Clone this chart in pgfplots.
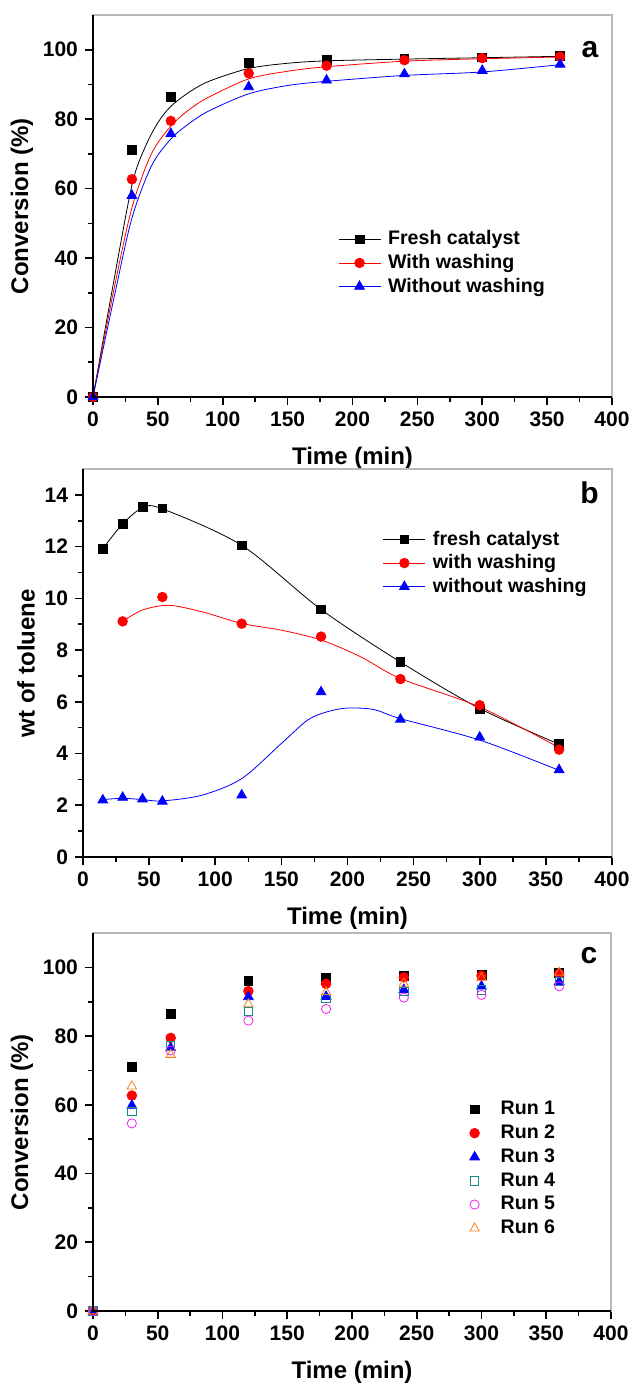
\documentclass[border=0pt]{standalone}
\usepackage{fontspec}
\setmainfont{Liberation Sans}
\usepackage{pgfplots}
\pgfplotsset{compat=1.18}

\definecolor{runteal}{HTML}{178A8A}
\definecolor{runmag}{HTML}{F020F0}
\definecolor{runorange}{HTML}{FF7F1A}

\tikzset{lbl/.style={font=\fontsize{15}{17}\selectfont\bfseries}}

\pgfplotsset{
  panel/.style={
    scale only axis,
    xmin=0, xmax=400,
    xtick={0,50,...,400},
    minor x tick num=1,
    tick align=outside,
    xtick pos=left, ytick pos=left,
    major tick length=4pt, minor tick length=2.5pt,
    tick style={black, line width=0.8pt},
    axis line style={gray!55, line width=0.8pt},
    ticklabel style={font=\fontsize{10.5}{12}\selectfont\bfseries},
    /pgf/number format/assume math mode=true,
    label style={font=\fontsize{12}{14}\selectfont\bfseries},
    xlabel={Time (min)},
    xlabel style={yshift=-3pt},
    ylabel style={yshift=-2pt},
    legend style={draw=none, fill=none, font=\fontsize{9.8}{11}\selectfont\bfseries,
      row sep=2pt, nodes={inner sep=0.6pt}},
    legend cell align=left,
  },
  linemark/.style={
    legend image code/.code={
      \draw[##1, mark repeat=2, mark phase=2] plot coordinates {(0pt,0pt) (10.5pt,0pt) (21pt,0pt)};
    },
  },
  sq/.style={black, mark=square*, mark size=2.2pt},
  ci/.style={red, mark=*, mark size=2.4pt},
  tr/.style={blue, mark=triangle*, mark size=2.8pt},
}

\begin{document}
\begin{tikzpicture}
\path[use as bounding box] (0,0) rectangle (315.5pt,-693pt);

% ---------- panel a ----------
\begin{axis}[panel, linemark, name=pa,
  at={(46.5pt,-198.5pt)}, anchor=south west,
  width=259.5pt, height=191pt,
  ymin=0, ymax=110, ytick={0,20,...,100}, minor y tick num=1,
  ylabel={Conversion (\%)},
  legend style={at={(axis description cs:0.46,0.45)}, anchor=north west},
]
\addlegendimage{sq, thin}
\addlegendentry{\hspace{3pt}Fresh catalyst}
\addlegendimage{ci, thin}
\addlegendentry{\hspace{3pt}With washing}
\addlegendimage{tr, thin}
\addlegendentry{\hspace{3pt}Without washing}

\addplot[black, thin, smooth, forget plot] coordinates {
  (0,0) (14.4,30) (30,61) (40,71.8) (50,79) (60,83.7) (75,88) (90,91.0) (120,94.6)
  (150,96.1) (180,96.8) (240,97.3) (300,97.7) (360,98.1)};
\addplot[red, thin, smooth, forget plot] coordinates {
  (0,0) (15.6,30) (30,54.5) (45,70) (60,78) (75,83) (90,86.5) (120,91.6)
  (150,93.8) (180,95.1) (240,96.7) (300,97.4) (360,97.9)};
\addplot[blue, thin, smooth, forget plot] coordinates {
  (0,0) (17,30) (30,51.5) (45,66.5) (60,74.3) (75,79) (90,82.5) (120,87.3)
  (150,89.7) (180,90.9) (240,92.6) (300,93.6) (360,95.7)};

\addplot[sq, only marks, forget plot] coordinates {
  (0,0) (30,71.2) (60,86.5) (120,96.2) (180,97.0) (240,97.5) (300,97.8) (360,98.2)};
\addplot[ci, only marks, forget plot] coordinates {
  (0,0) (30,62.7) (60,79.5) (120,93.2) (180,95.4) (240,97.0) (300,97.6) (360,98.0)};
\addplot[tr, only marks, forget plot] coordinates {
  (0,0) (30,58.0) (60,75.8) (120,89.3) (180,91.2) (240,93.0) (300,94.0) (360,95.8)};

\node[lbl] at (axis cs:383,100) {a};
\end{axis}
\draw[black, line width=1pt] (pa.north west) -- (pa.south west) -- (pa.south east);

% ---------- panel b ----------
\begin{axis}[panel, linemark, name=pb,
  at={(41.5pt,-428.5pt)}, anchor=south west,
  width=264.5pt, height=194pt,
  ymin=0, ymax=15, ytick={0,2,...,14}, minor y tick num=1,
  ylabel={wt of toluene},
  legend style={at={(axis description cs:0.555,0.855)}, anchor=north west},
]
\addlegendimage{sq, thin}
\addlegendentry{\hspace{3pt}fresh catalyst}
\addlegendimage{ci, thin}
\addlegendentry{\hspace{3pt}with washing}
\addlegendimage{tr, thin}
\addlegendentry{\hspace{3pt}without washing}

\addplot[black, thin, smooth, forget plot] coordinates {
  (15,11.92) (30,12.88) (45,13.50) (60,13.46) (120,12.05) (180,9.57)
  (240,7.54) (300,5.74) (360,4.36)};
\addplot[red, thin, smooth, forget plot] coordinates {
  (30,9.11) (45,9.55) (65,9.73) (90,9.48) (120,9.03) (150,8.77) (180,8.39)
  (210,7.74) (240,6.90) (300,5.80) (360,4.23)};
\addplot[blue, thin, smooth, forget plot] coordinates {
  (15,2.22) (30,2.27) (45,2.22) (60,2.17) (90,2.39) (120,3.03) (150,4.39)
  (170,5.30) (185,5.62) (200,5.76) (220,5.70) (240,5.35) (300,4.52) (360,3.35)};

\addplot[sq, only marks, forget plot] coordinates {
  (15,11.92) (30,12.88) (45,13.54) (60,13.48) (120,12.05) (180,9.57)
  (240,7.54) (300,5.74) (360,4.36)};
\addplot[ci, only marks, forget plot] coordinates {
  (30,9.11) (60,10.05) (120,9.02) (180,8.52) (240,6.88) (300,5.87) (360,4.15)};
\addplot[tr, only marks, forget plot] coordinates {
  (15,2.20) (30,2.30) (45,2.24) (60,2.15) (120,2.39) (180,6.38)
  (240,5.32) (300,4.63) (360,3.37)};

\node[lbl] at (axis cs:383,14.1) {b};
\end{axis}
\draw[black, line width=1pt] (pb.north west) -- (pb.south west) -- (pb.south east);

% ---------- panel c ----------
\begin{axis}[panel, name=pc,
  at={(46.5pt,-655.5pt)}, anchor=south west,
  width=259pt, height=189pt,
  ymin=0, ymax=110, ytick={0,20,...,100}, minor y tick num=1,
  ylabel={Conversion (\%)},
  legend style={at={(axis description cs:0.715,0.57)}, anchor=north west,
    row sep=2.4pt},
  legend image code/.code={\draw[#1] plot coordinates {(6pt,0pt)};},
]
\addplot[sq, only marks] coordinates {
  (0,0) (30,71.1) (60,86.4) (120,96.1) (180,97.1) (240,97.5) (300,97.8) (360,98.3)};
\addlegendentry{\hspace{10pt}Run 1}
\addplot[ci, only marks] coordinates {
  (0,0) (30,62.7) (60,79.5) (120,93.1) (180,95.2) (240,97.1) (300,97.6) (360,98.1)};
\addlegendentry{\hspace{10pt}Run 2}
\addplot[tr, only marks] coordinates {
  (0,0) (30,59.8) (60,76.6) (120,91.4) (180,91.5) (240,93.5) (300,94.5) (360,95.8)};
\addlegendentry{\hspace{10pt}Run 3}
\addplot[runteal, mark=square, mark size=2.1pt, only marks] coordinates {
  (0,0) (30,58.1) (60,77.1) (120,87.2) (180,90.9) (240,93.0) (300,93.5) (360,96.0)};
\addlegendentry{\hspace{10pt}Run 4}
\addplot[runmag, mark=o, mark size=2.3pt, only marks] coordinates {
  (0,0) (30,54.6) (60,75.8) (120,84.5) (180,87.9) (240,91.2) (300,92.0) (360,94.5)};
\addlegendentry{\hspace{10pt}Run 5}
\addplot[runorange, mark=triangle, mark size=2.7pt, only marks] coordinates {
  (0,0) (30,65.4) (60,74.6) (120,89.3) (180,92.8) (240,95.3) (300,96.9) (360,98.5)};
\addlegendentry{\hspace{10pt}Run 6}

\node[lbl] at (axis cs:383,103.5) {c};
\end{axis}
\draw[black, line width=1pt] (pc.north west) -- (pc.south west) -- (pc.south east);
\end{tikzpicture}
\end{document}
